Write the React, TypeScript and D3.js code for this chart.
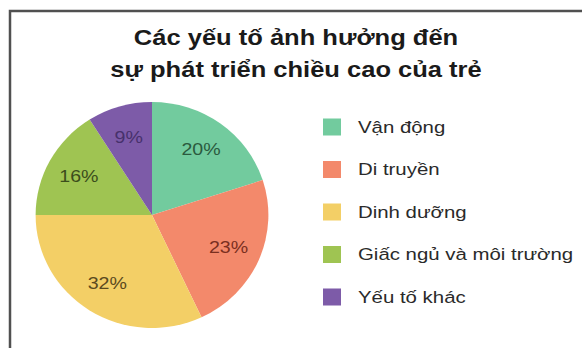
import React from "react";
import * as d3 from "d3";

const categories = ["Vận động", "Di truyền", "Dinh dưỡng", "Giấc ngủ và môi trường", "Yếu tố khác"];
const values = [20, 23, 32, 16, 9];
const sliceColors = ["#72cb9e", "#f3896b", "#f3cf66", "#9fc452", "#7d5ba8"];
const labelColors = ["#2b5a3e", "#7a2f1f", "#5b4a1e", "#3b4d1c", "#47316c"];
const titleLines = ["Các yếu tố ảnh hưởng đến", "sự phát triển chiều cao của trẻ"];

const W = 582;
const H = 348;

export default function App() {
  const cx = 152;
  const cy = 215;
  const R = 113;
  const pie = d3.pie<number>().sort(null).value((d) => d)(values);
  const arc = d3.arc<d3.PieArcDatum<number>>().innerRadius(0).outerRadius(R);
  const labelArc = d3.arc<d3.PieArcDatum<number>>().innerRadius(81).outerRadius(81);
  const legendY = d3.scalePoint<string>().domain(categories).range([127, 297]);
  const font = "'Liberation Sans', Arial, sans-serif";

  return (
    <svg width={W} height={H} style={{ position: "absolute", left: 0, top: 0, background: "#fff" }}>
      <path d={`M10,${H + 5} V11 H${W + 5}`} fill="none" stroke="#505050" strokeWidth={2.5} />
      <g transform="translate(296,0) scale(1.16,1)">
        {titleLines.map((t, i) => (
          <text key={i} x={0} y={45 + i * 32} textAnchor="middle" fontFamily={font} fontWeight="bold" fontSize={22} fill="#1a1a1a">
            {t}
          </text>
        ))}
      </g>
      <g transform={`translate(${cx},${cy}) scale(1.03,1)`}>
        {pie.map((p, i) => (
          <path key={i} d={arc(p) || ""} fill={sliceColors[i]} />
        ))}
        {pie.map((p, i) => {
          const [x, y] = labelArc.centroid(p);
          return (
            <text key={i} x={x} y={y} textAnchor="middle" dominantBaseline="central" fontFamily={font} fontSize={17} fill={labelColors[i]} transform={`translate(${x},${y}) scale(1.12,1) translate(${-x},${-y})`}>
              {values[i]}%
            </text>
          );
        })}
      </g>
      {categories.map((c, i) => {
        const y = legendY(c) || 0;
        return (
          <g key={c}>
            <rect x={323} y={y - 8.5} width={18} height={17} fill={sliceColors[i]} />
            <g transform={`translate(358,${y}) scale(1.2,1)`}>
              <text x={0} y={0} dominantBaseline="central" fontFamily={font} fontSize={17} fill="#2a2a2a">
                {c}
              </text>
            </g>
          </g>
        );
      })}
    </svg>
  );
}
